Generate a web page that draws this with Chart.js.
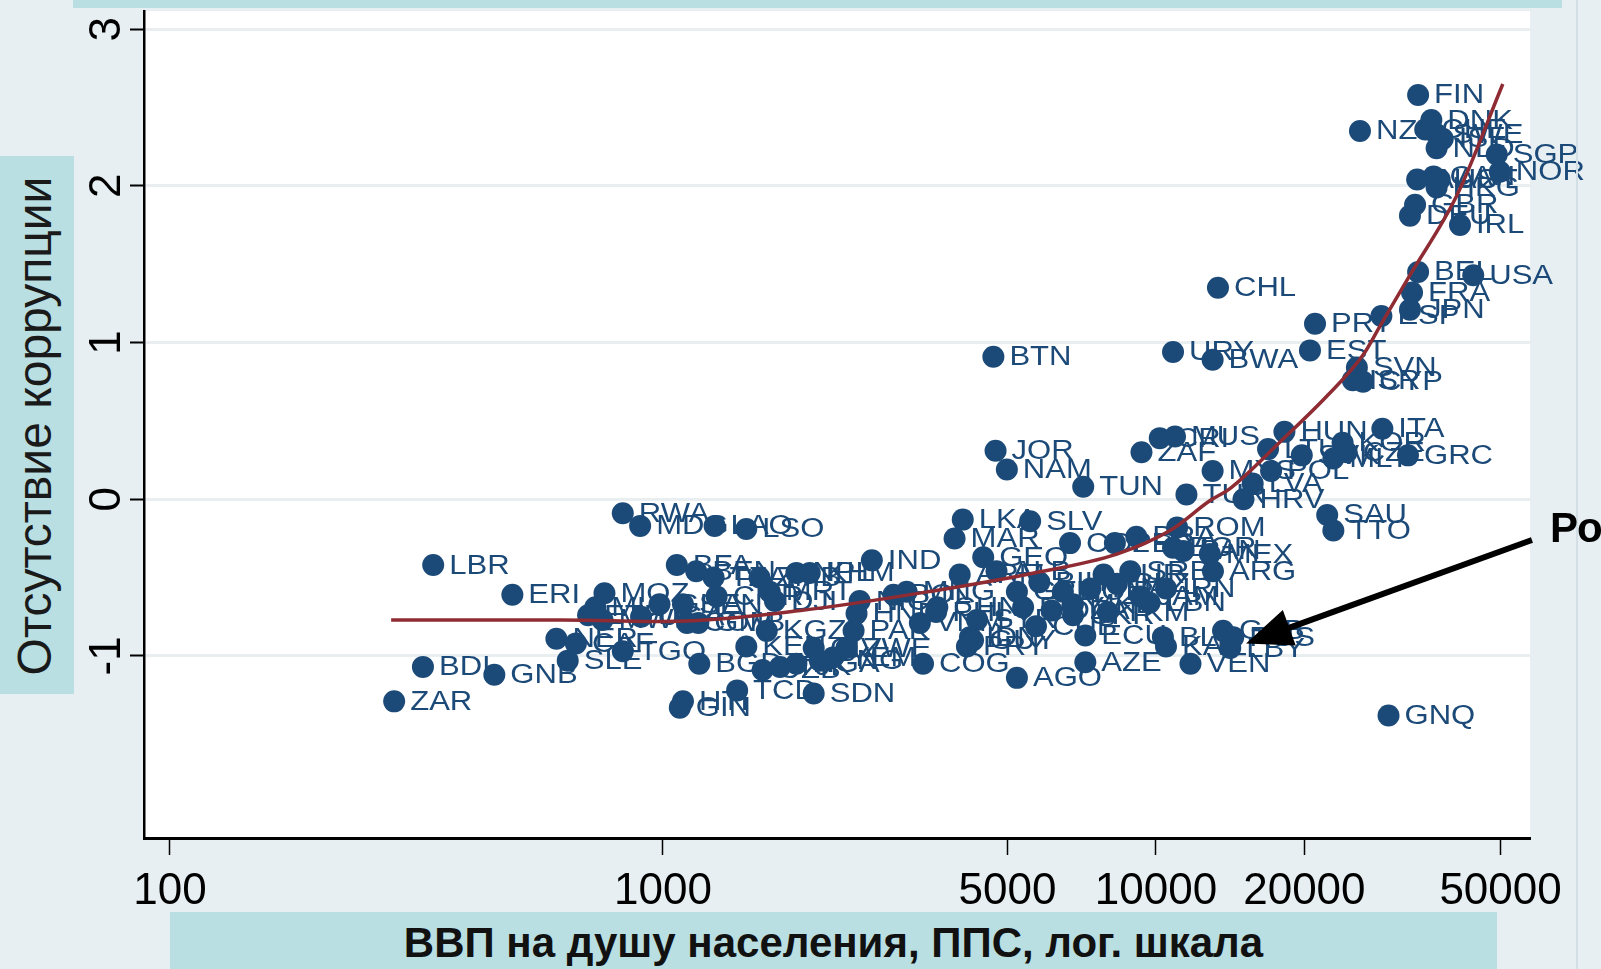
<!DOCTYPE html>
<html>
<head>
<meta charset="utf-8">
<script src="https://cdn.jsdelivr.net/npm/chart.js@4.4.1/dist/chart.umd.min.js"></script>
<style>
  html,body{margin:0;padding:0;width:1601px;height:969px;overflow:hidden;background:#e7eff2;}
  #c{position:absolute;left:0;top:0;}
  .band{position:absolute;background:#b9dfe3;}
  #top-band{left:73px;top:0;width:1489px;height:8px;}
  #ylab{left:0;top:156px;width:74px;height:538px;}
  #ylab span{position:absolute;left:34px;top:270px;transform:translate(-50%,-50%) rotate(-90deg);
    white-space:nowrap;font:48px "Liberation Sans",Arial,sans-serif;color:#1a1a1a;}
  #xlab{left:170px;top:912px;width:1327px;height:57px;text-align:center;
    font:bold 42px "Liberation Sans",Arial,sans-serif;line-height:62px;color:#111;}
  #edge{position:absolute;left:1576px;top:0;width:2px;height:969px;background:#d2dfe4;}
  #rus{position:absolute;left:1550px;top:504px;white-space:nowrap;
    font:bold 42px "Liberation Sans",Arial,sans-serif;color:#000;}
</style>
</head>
<body>
<canvas id="c" width="1601" height="969"></canvas>
<div id="edge"></div>
<div class="band" id="top-band"></div>
<div class="band" id="ylab"><span>Отсутствие коррупции</span></div>
<div class="band" id="xlab">ВВП на душу населения, ППС, лог. шкала</div>
<div id="rus">Россия</div>
<script>
// countries: ISO code, GDP per capita (PPP), control of corruption
const countries=['ZAR','BDI','LBR','GNB','ERI','NER','CAF','SLE','TGO','MOZ','MLI','ETH','MWI','UGA','GHA','SEN','COM','GMB','BGD',
  'BFA','BEN','TZA','ZMB','NPL','KHM','IND','RWA','MDG','LAO','LSO','CMR','MRT','DJI','KGZ','KEN','UZB','TJK','NGA','CIV','PNG',
  'YEM','ZWE','PAK','HND','NIC','TCD','SDN','GIN','HTI','BOL','MNG','VNM','PHL','COG','ARM','MAR','LKA','GEO','SLV','GTM',
  'EGY','PRY','IDN','AGO','ALB','CHN','SYR','GUY','JOR','NAM','BTN','TUN','COL','PER','BRA','ROM','BGR','PAN','MEX','ARG',
  'DOM','MKD','THA','SUR','BLZ','SRB','LBN','IRN','UKR','ECU','AZE','BLR','KAZ','VEN','GAB','RUS','LBY','TUR','HRV','SAU',
  'TTO','ZAF','CRI','MUS','MYS','HUN','LTU','SVK','POL','LVA','ITA','KOR','CZE','MLT','GRC','URY','BWA','EST','SVN','ISR',
  'CYP','PRT','CHL','ESP','JPN','FRA','BEL','USA','DEU','GBR','IRL','AUS','CAN','AUT','HKG','NOR','SGP','NLD','ISL','SWE',
  'CHE','DNK','NZL','FIN','GNQ','JAM','DZA','BIH','TKM','CUB'];
const gdp=[285,326,342,455,495,608,666,641,829,761,729,705,754,903,984,1098,1119,1180,1185,
  1067,1168,1267,1570,1865,1985,2653,829,899,1273,1476,1285,1647,1687,1624,1476,1593,1728,1865,2022,2081,
  2213,2356,2436,2470,2506,1414,2022,1082,1098,2935,3121,3320,3582,3369,3999,3904,4056,4463,5557,5224,
  5377,4136,4196,5224,4749,3602,4336,4256,4728,4984,4680,7120,6694,8255,9125,11040,10830,11360,12860,13050,
  6474,6788,7364,7830,8333,8870,9707,10480,6788,7190,7190,10330,10480,11750,13680,14350,14150,11530,15050,22250,
  22900,9346,10180,10930,13030,18220,16880,19760,17120,15710,28790,23910,24370,22900,32450,10830,13030,20530,25560,25070,
  26300,21020,13360,28660,32750,33070,34020,44010,32750,33540,41370,33870,36570,37630,37090,49830,49120,37090,38170,37090,
  35170,36190,25930,34020,29630,9303,6142,5800,7985,5711];
const corruption=[-1.29,-1.07,-0.42,-1.12,-0.61,-0.89,-0.92,-1.03,-0.97,-0.60,-0.69,-0.74,-0.77,-0.75,-0.67,-0.67,-0.79,-0.79,-1.05,
  -0.42,-0.46,-0.50,-0.50,-0.47,-0.47,-0.39,-0.09,-0.17,-0.17,-0.19,-0.62,-0.59,-0.65,-0.84,-0.94,-1.09,-1.07,-1.05,-0.95,-1.03,
  -1.01,-0.95,-0.84,-0.73,-0.65,-1.22,-1.24,-1.33,-1.29,-0.61,-0.59,-0.79,-0.72,-1.05,-0.48,-0.25,-0.13,-0.37,-0.14,-0.59,
  -0.69,-0.94,-0.88,-1.14,-0.46,-0.69,-0.77,-0.90,0.31,0.19,0.91,0.08,-0.28,-0.28,-0.24,-0.18,-0.31,-0.33,-0.35,-0.46,
  -0.59,-0.67,-0.57,-0.48,-0.54,-0.46,-0.66,-0.57,-0.74,-0.87,-1.04,-0.88,-0.94,-1.05,-0.84,-0.88,-0.95,0.03,0.00,-0.10,
  -0.20,0.30,0.39,0.40,0.18,0.43,0.32,0.28,0.18,0.10,0.45,0.36,0.30,0.26,0.28,0.94,0.89,0.95,0.84,0.76,
  0.75,1.12,1.35,1.17,1.21,1.32,1.45,1.43,1.81,1.88,1.75,2.04,2.06,2.04,1.99,2.09,2.20,2.24,2.30,2.33,
  2.36,2.42,2.35,2.58,-1.38,-0.62,-0.71,-0.53,-0.72,-0.81];

// smoothed fit (lowess)
const fitGdp=[281,623,1003,1901,3532,5557,8333,10680,12860,14150,17870,22250,26300,28530,32750,40780,50530];
const fitCorr=[-0.77,-0.77,-0.78,-0.71,-0.585,-0.475,-0.35,-0.2,-0.01,0.07,0.367,0.66,0.92,1.11,1.43,1.94,2.65];

const xTicks=[100,1000,5000,10000,20000,50000];
const yTicks=[-1,0,1,2,3];

// arrow to Russia: [gdp, corruption]
const arrowFrom=[57900,-0.26];
const arrowTo=[15230,-0.92];

const DOT='#1c4a78';
const TICK_FONT='"Liberation Sans",Arial,sans-serif';

const plotBg={id:'plotBg',beforeDraw(chart){
  const{ctx,chartArea:{left,right,top,bottom}}=chart;
  ctx.save(); ctx.fillStyle='#fff'; ctx.fillRect(left,top,right-left,bottom-top); ctx.restore();
}};

const countryLabels={id:'countryLabels',beforeDatasetsDraw(chart){
  const meta=chart.getDatasetMeta(1), ctx=chart.ctx;
  ctx.save();
  ctx.fillStyle=DOT; ctx.font='27px "Liberation Sans",Arial,sans-serif'; ctx.textBaseline='middle';
  meta.data.forEach((pt,i)=>{
    ctx.save(); ctx.translate(pt.x+16,pt.y+1); ctx.scale(1.15,1);
    ctx.fillText(countries[i],0,0); ctx.restore();
  });
  ctx.restore();
}};

const arrowPlugin={id:'arrow',afterDraw(chart){
  const{ctx,scales:{x,y}}=chart;
  const x0=x.getPixelForValue(arrowFrom[0]), y0=y.getPixelForValue(arrowFrom[1]);
  const x1=x.getPixelForValue(arrowTo[0]),   y1=y.getPixelForValue(arrowTo[1]);
  const a=Math.atan2(y1-y0,x1-x0), head=46, half=19;
  const bx=x1-head*Math.cos(a), by=y1-head*Math.sin(a);
  ctx.save();
  ctx.strokeStyle='#000'; ctx.fillStyle='#000'; ctx.lineWidth=6;
  ctx.beginPath(); ctx.moveTo(x0,y0); ctx.lineTo(bx+4*Math.cos(a),by+4*Math.sin(a)); ctx.stroke();
  ctx.beginPath(); ctx.moveTo(x1,y1);
  ctx.lineTo(bx+half*Math.sin(a),by-half*Math.cos(a));
  ctx.lineTo(bx-half*Math.sin(a),by+half*Math.cos(a));
  ctx.closePath(); ctx.fill();
  ctx.restore();
}};

new Chart(document.getElementById('c'),{
  data:{datasets:[
    {type:'line',label:'fit',data:fitGdp.map((g,i)=>({x:g,y:fitCorr[i]})),
      borderColor:'#8e2b33',borderWidth:3.5,pointRadius:0,cubicInterpolationMode:'monotone',order:0},
    {type:'scatter',label:'countries',data:gdp.map((g,i)=>({x:g,y:corruption[i]})),
      backgroundColor:DOT,borderWidth:0,pointRadius:11,order:1}
  ]},
  options:{
    responsive:false,animation:false,
    layout:{padding:{top:8,right:71,left:0,bottom:0}},
    plugins:{legend:{display:false},tooltip:{enabled:false}},
    scales:{
      x:{type:'logarithmic',min:88.6,max:57370,bounds:'data',
        afterBuildTicks:s=>{s.ticks=xTicks.map(v=>({value:v}));},
        afterFit:s=>{s.height=131;s.paddingLeft=0;s.paddingRight=0;},
        border:{color:'#000',width:3},
        grid:{drawOnChartArea:false,drawTicks:true,tickLength:17,tickColor:'#000',tickWidth:1.5},
        ticks:{color:'#000',padding:10,autoSkip:false,minRotation:0,maxRotation:0,
          font:{family:TICK_FONT,size:44},callback:v=>String(v)}},
      y:{type:'linear',min:-2.162,max:3.116,bounds:'data',
        afterBuildTicks:s=>{s.ticks=yTicks.map(v=>({value:v}));},
        afterFit:s=>{s.width=144;s.paddingTop=0;s.paddingBottom=0;},
        border:{color:'#000',width:2.5},
        grid:{color:'#e9eff1',lineWidth:3,drawTicks:true,tickLength:14,tickColor:'#000',tickWidth:2},
        ticks:{color:'#000',padding:3,crossAlign:'center',minRotation:90,maxRotation:90,
          font:{family:TICK_FONT,size:44},callback:v=>String(v)}}
    }
  },
  plugins:[plotBg,countryLabels,arrowPlugin]
});
</script>
</body>
</html>
